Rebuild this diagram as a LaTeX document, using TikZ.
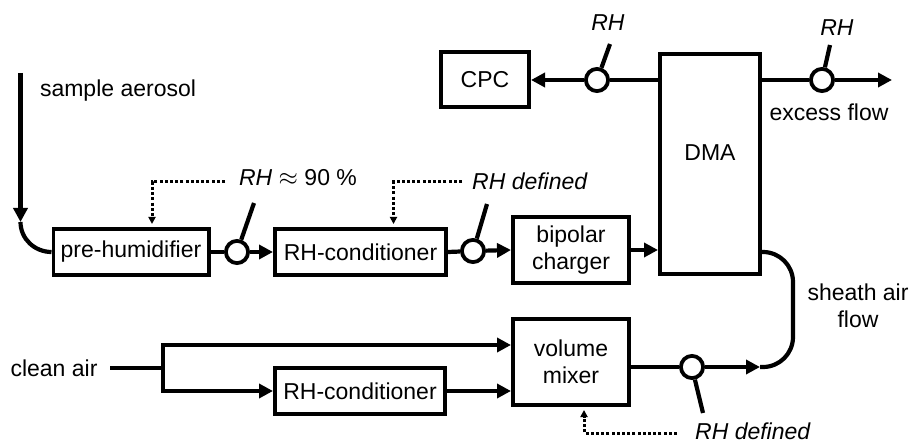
\documentclass[tikz,border=0pt]{standalone}
\usepackage{fontspec}
\setmainfont{Liberation Sans}
\usetikzlibrary{arrows.meta}

\begin{document}
\begin{tikzpicture}[
  x=1pt,y=-1pt,
  font=\fontsize{23}{27}\selectfont,
  box/.style={draw,line width=3.8pt,inner sep=0pt,align=center},
  sens/.style={draw,circle,line width=3.8pt,fill=white,inner sep=0pt,minimum size=22.2pt},
  pipe/.style={line width=4.2pt},
  fl/.style={pipe,-{Triangle[length=14pt,width=14pt]}},
  ctl/.style={line width=3pt,dash pattern=on 3pt off 2.2pt,shorten >=3pt,-{Triangle[length=7pt,width=7pt]}},
  lbl/.style={inner sep=0pt,align=center},
]
\useasboundingbox (0,0) rectangle (910,443);
% boxes
\node[box,minimum width=155.2pt,minimum height=46.2pt] (ph) at (131,252) {pre-humidifier};
\node[box,minimum width=171.2pt,minimum height=46.2pt] (rc1) at (360.5,252) {RH-conditioner};
\node[box,minimum width=116.2pt,minimum height=66.2pt] (bc) at (571,250) {bipolar\\charger};
\node[box,minimum width=100.2pt,minimum height=220.2pt,label={[yshift=11pt]center:DMA}] (dma) at (710,164) {};
\node[box,minimum width=88.2pt,minimum height=55.2pt] (cpc) at (485,79.5) {CPC};
\node[box,minimum width=116.2pt,minimum height=86.2pt] (mx) at (571,362) {volume\\mixer};
\node[box,minimum width=170.2pt,minimum height=46.2pt] (rc2) at (360,391) {RH-conditioner};
% RH sensors
\node[sens] (s1) at (237,252) {};
\node[sens] (s2) at (473,251) {};
\node[sens] (s3) at (597,80) {};
\node[sens] (s4) at (822,80) {};
\node[sens] (s5) at (692,367) {};
\coordinate (t1) at (254,203);
\coordinate (t2) at (487,204);
\coordinate (t3) at (610,44);
\coordinate (t4) at (830,45);
\coordinate (t5) at (703,413);
% free ends and bends
\coordinate (sa) at (20.5,73);
\coordinate (sab) at (20.5,222);
\coordinate (ex) at (892,80);
\coordinate (sh) at (760,367);
\coordinate (shx) at (793,252);
\coordinate (ca) at (110,368);
\coordinate (sp) at (163,368);
\coordinate (c1) at (225,182);
\coordinate (c2) at (462,182);
\coordinate (c3) at (677,433);
% labels
\node[lbl] (lsa) at (118,91) {sample aerosol};
\node[lbl] (lh90) at (298,178) {\textit{RH} $\approx$ 90 \%};
\node[lbl] (lrd1) at (530,181) {\textit{RH defined}};
\node[lbl] (lrh3) at (608,23) {\textit{RH}};
\node[lbl] (lrh4) at (837,28) {\textit{RH}};
\node[lbl] (lex) at (829,112) {excess flow};
\node[lbl] (lsh) at (858,306) {sheath air\\flow};
\node[lbl] (lca) at (54,368) {clean air};
\node[lbl] (lrd2) at (753,431) {\textit{RH defined}};
% aerosol line
\draw[fl] (sa) -- (sab);
\draw[pipe] (sab) to[out=-90,in=180] (ph.west);
\draw[pipe] (ph.east) -- (s1);
\draw[fl] (s1) -- (rc1.west);
\draw[pipe] (rc1.east) -- (s2);
\draw[fl] (s2) -- (bc.west);
\draw[fl] (bc.east) -- (bc.east -| dma.west);
\draw[pipe] (s3 -| dma.west) -- (s3);
\draw[fl] (s3) -- (s3 -| cpc.east);
\draw[pipe] (s4 -| dma.east) -- (s4);
\draw[fl] (s4) -- (ex);
% sheath air
\draw[pipe] (mx.east |- s5) -- (s5);
\draw[fl] (s5) -- (sh);
\draw[pipe,rounded corners=30pt] (sh) -| (shx) -- (dma.east |- shx);
\draw[pipe] (ca) -- (sp);
\draw[fl] (sp) |- ([yshift=17pt]mx.west);
\draw[fl] (sp) |- (rc2.west);
\draw[fl] (rc2.east) -- (rc2.east -| mx.west);
% sensor sticks
\draw[pipe] (s1.71) -- (t1);
\draw[pipe] (s2.73) -- (t2);
\draw[pipe] (s3.70) -- (t3);
\draw[pipe] (s4.77) -- (t4);
\draw[pipe] (s5.283) -- (t5);
% RH control
\draw[ctl] (c1) -| ([xshift=21pt]ph.north);
\draw[ctl] (c2) -| ([xshift=33pt]rc1.north);
\draw[ctl] (c3) -| ([xshift=13pt]mx.south);
\end{tikzpicture}
\end{document}
